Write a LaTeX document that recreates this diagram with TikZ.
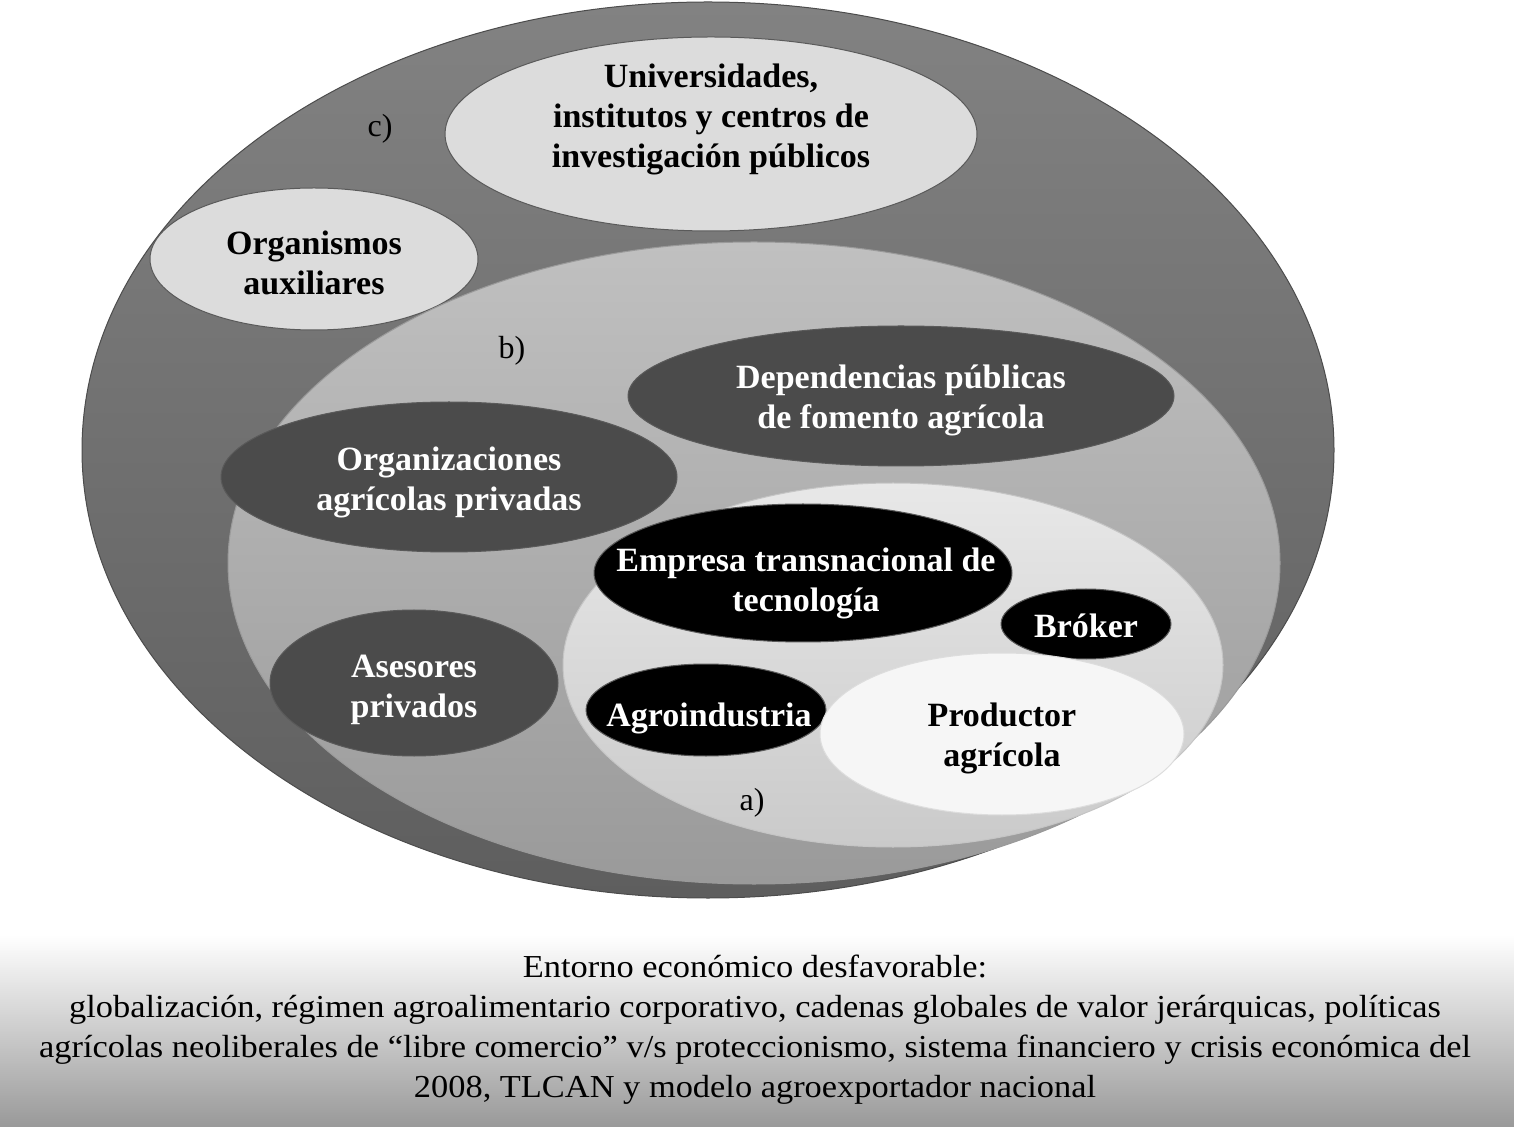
\documentclass[tikz,border=0pt]{standalone}
\usepackage{fontspec}
\setmainfont{Liberation Serif}
\newfontfamily\capfont{Liberation Serif}[FakeStretch=1.075]
\usetikzlibrary{shapes.geometric}
\definecolor{outerT}{HTML}{828282}
\definecolor{outerB}{HTML}{5E5E5E}
\definecolor{bT}{HTML}{C0C0C0}
\definecolor{bB}{HTML}{9A9A9A}
\definecolor{aT}{HTML}{E8E8E8}
\definecolor{aB}{HTML}{CACACA}
\definecolor{lightell}{HTML}{DCDCDC}
\definecolor{darkell}{HTML}{4B4B4B}
\definecolor{prodell}{HTML}{F6F6F6}
\definecolor{edge}{HTML}{5A5A5A}
\tikzset{
  ell/.style={ellipse, inner sep=0pt, draw=edge, line width=0.5pt},
  lightE/.style={ell, fill=lightell},
  darkE/.style={ell, fill=darkell},
  blackE/.style={ell, fill=black},
  prodE/.style={ell, fill=prodell, draw=prodell!90!black},
  txt/.style={inner sep=0pt, align=center, font=\fontsize{17pt}{20pt}\selectfont\bfseries},
  txtB/.style={txt, text=black},
  txtW/.style={txt, text=white},
  tag/.style={font=\fontsize{16pt}{20pt}\selectfont, text=black, inner sep=0pt},
  caption/.style={font=\fontsize{16pt}{20pt}\selectfont\capfont, align=center, inner sep=0pt}
}
\begin{document}
\begin{tikzpicture}[x=0.5pt,y=-0.5pt]
\useasboundingbox (0,0) rectangle (1514,1127);
% background band
\shade[top color=white, bottom color=black!40] (0,935) rectangle (1514,1127);
% zone c)
\node[ell, top color=outerT, bottom color=outerB, draw=black!70,
      minimum width=626pt, minimum height=448pt] (c) at (708,450) {};
\node[tag] (clab) at (380,129) {c)};
\node[lightE, minimum width=266pt, minimum height=97pt] (univ) at (711,134) {};
\node[txtB] (univtext) at (711,119)
  {Universidades,\\ institutos y centros de\\ investigación públicos};
\node[lightE, minimum width=164pt, minimum height=71pt] (orgaux) at (314,259) {};
\node[txtB] (orgauxtext) at (314,263) {Organismos\\ auxiliares};
% zone b)
\node[ell, top color=bT, bottom color=bB, draw=bT!80!black,
      minimum width=526pt, minimum height=321pt] (b) at (754,563) {};
\node[tag] (blab) at (512,351) {b)};
\node[darkE, minimum width=273pt, minimum height=70pt] (dep) at (901,396) {};
\node[txtW] (deptext) at (901,400) {Dependencias públicas\\ de fomento agrícola};
\node[darkE, minimum width=228pt, minimum height=75pt] (orgpriv) at (449,477) {};
\node[txtW] (orgprivtext) at (449,482) {Organizaciones\\ agrícolas privadas};
\node[darkE, minimum width=144pt, minimum height=73pt] (ases) at (414,683) {};
\node[txtW] (asestext) at (414,690) {Asesores\\ privados};
% zone a)
\node[ell, top color=aT, bottom color=aB, draw=aT!85!black,
      minimum width=330pt, minimum height=182pt] (a) at (893,665) {};
\node[tag] (alab) at (752,803) {a)};
\node[blackE, minimum width=209pt, minimum height=69pt] (emp) at (803,573) {};
\node[txtW] (emptext) at (806,583) {Empresa transnacional de\\ tecnología};
\node[blackE, minimum width=85pt, minimum height=35pt] (brok) at (1086,624) {};
\node[txtW] (broktext) at (1086,626) {Bróker};
\node[blackE, minimum width=120pt, minimum height=46pt] (agro) at (706,710) {};
\node[txtW] (agrotext) at (709,718) {Agroindustria};
\node[prodE, minimum width=182pt, minimum height=81pt] (prod) at (1002,734) {};
\node[txtB] (prodtext) at (1002,738) {Productor\\ agrícola};
% caption
\node[caption] (entorno) at (755,1030)
  {Entorno económico desfavorable:\\
   globalización, régimen agroalimentario corporativo, cadenas globales de valor jerárquicas, políticas\\
   agrícolas neoliberales de “libre comercio” v/s proteccionismo, sistema financiero y crisis económica del\\
   2008, TLCAN y modelo agroexportador nacional};
\end{tikzpicture}
\end{document}
